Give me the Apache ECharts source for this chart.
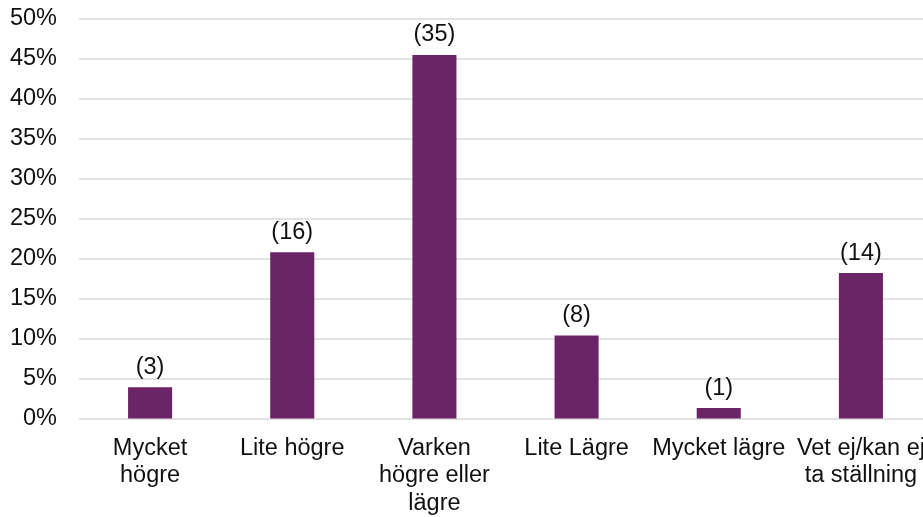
<!DOCTYPE html>
<html>
<head>
<meta charset="utf-8">
<script src="https://cdn.jsdelivr.net/npm/echarts@6/dist/echarts.min.js"></script>
<style>
html,body{margin:0;padding:0;background:#fff;overflow:hidden;width:923px;height:517px;}
#chart{width:932px;height:517px;}
</style>
</head>
<body>
<div id="chart"></div>
<script>
const categories = ["Mycket\nhögre", "Lite högre", "Varken\nhögre eller\nlägre", "Lite Lägre", "Mycket lägre", "Vet ej/kan ej\nta ställning"];
const percentValues = [3.9, 20.8, 45.5, 10.4, 1.3, 18.2];
const countLabels = ["(3)", "(16)", "(35)", "(8)", "(1)", "(14)"];
const yTicks = [0, 5, 10, 15, 20, 25, 30, 35, 40, 45, 50];

const FONT = "'Liberation Sans', Arial, sans-serif";
const chart = echarts.init(document.getElementById('chart'), null, {renderer: 'canvas'});
chart.setOption({
  animation: false,
  backgroundColor: '#ffffff',
  grid: {left: 79, right: 0, top: 19, bottom: 97},
  xAxis: {
    type: 'category',
    data: categories,
    axisLine: {show: false},
    axisTick: {show: false},
    axisLabel: {
      interval: 0,
      hideOverlap: false,
      margin: 16,
      color: '#111',
      fontFamily: FONT,
      fontSize: 23.5,
      lineHeight: 27.5
    }
  },
  yAxis: {
    type: 'value',
    min: yTicks[0],
    max: yTicks[yTicks.length - 1],
    interval: 5,
    axisLine: {show: false},
    axisTick: {show: false},
    splitLine: {lineStyle: {color: '#d9d9d9', width: 1.5}},
    axisLabel: {
      margin: 22,
      color: '#111',
      fontFamily: FONT,
      fontSize: 23.5,
      formatter: v => v + '%'
    }
  },
  series: [{
    type: 'bar',
    data: percentValues,
    barWidth: '31%',
    itemStyle: {color: '#6b2567'},
    label: {
      show: true,
      position: 'top',
      distance: 8,
      color: '#111',
      fontFamily: FONT,
      fontSize: 23.5,
      formatter: p => countLabels[p.dataIndex]
    }
  }]
});
</script>
</body>
</html>
